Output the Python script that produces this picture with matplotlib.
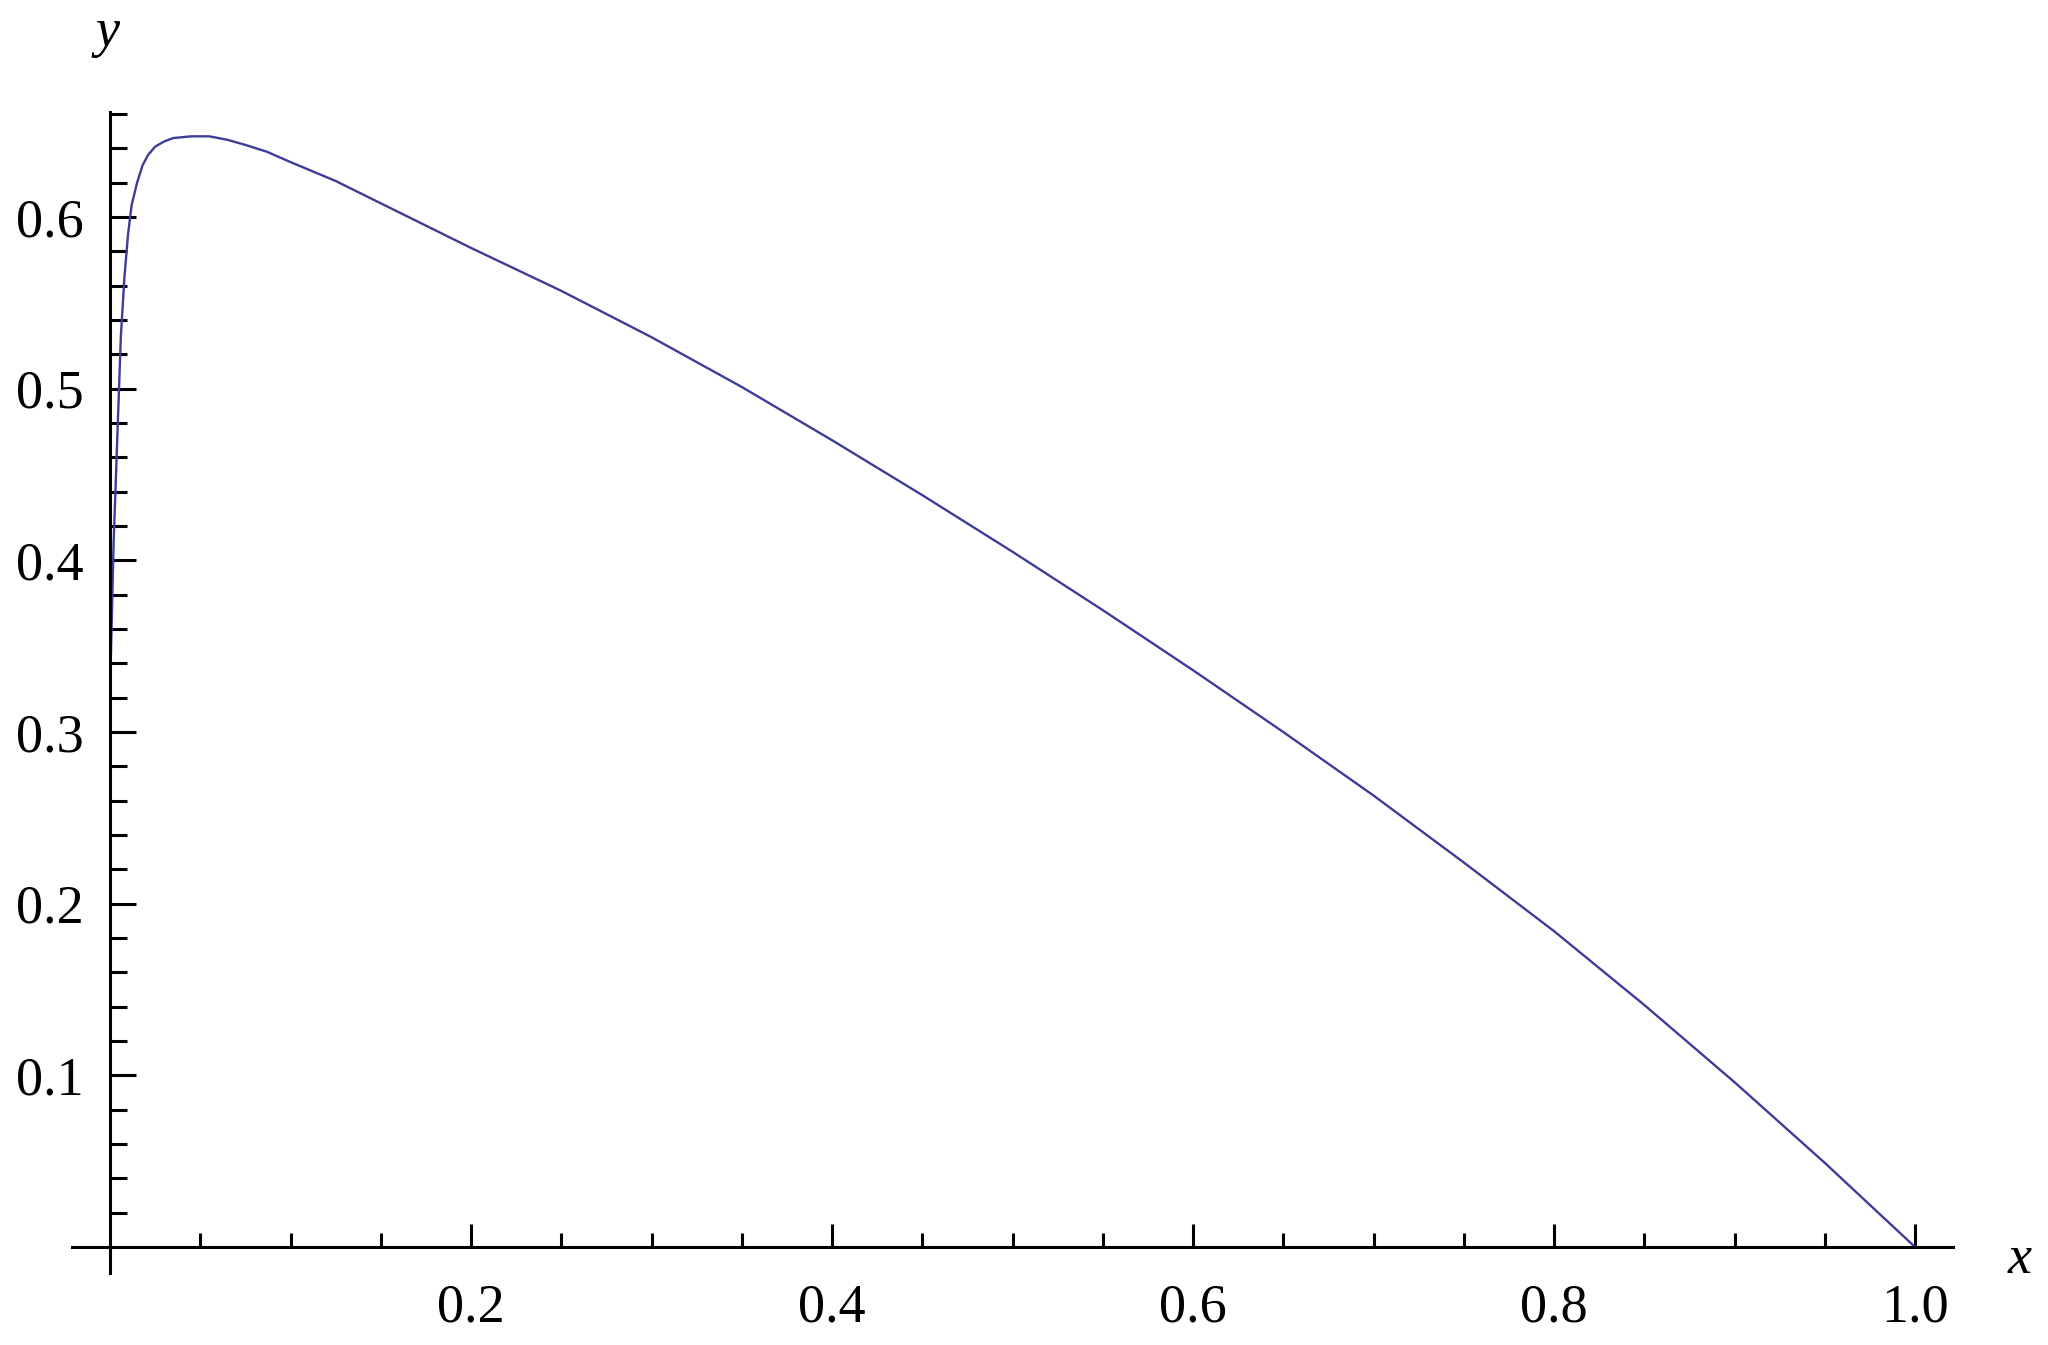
import numpy as np
import matplotlib
matplotlib.use("Agg")
from matplotlib import pyplot as plt
from matplotlib.ticker import FixedLocator

# curve
x_vals = [0.0005, 0.002, 0.004, 0.006, 0.008, 0.010, 0.012, 0.015, 0.018, 0.021,
          0.025, 0.030, 0.035, 0.045, 0.055, 0.065, 0.075, 0.087, 0.100, 0.125,
          0.150, 0.175, 0.200, 0.250, 0.300, 0.350, 0.400, 0.450, 0.500, 0.550,
          0.600, 0.650, 0.700, 0.750, 0.800, 0.850, 0.900, 0.950, 1.000]
y_vals = [0.345, 0.410, 0.470, 0.530, 0.565, 0.590, 0.607, 0.620, 0.630, 0.636,
          0.641, 0.644, 0.646, 0.647, 0.647, 0.645, 0.642, 0.638, 0.632, 0.621,
          0.608, 0.595, 0.582, 0.557, 0.530, 0.501, 0.470, 0.438, 0.405, 0.371,
          0.336, 0.300, 0.263, 0.224, 0.184, 0.141, 0.096, 0.049, 0.000]

x_ticks = [0.2, 0.4, 0.6, 0.8, 1.0]
x_labels = ["0.2", "0.4", "0.6", "0.8", "1.0"]
y_ticks = [0.1, 0.2, 0.3, 0.4, 0.5, 0.6]
y_labels = ["0.1", "0.2", "0.3", "0.4", "0.5", "0.6"]

plt.rcParams['font.family'] = ['Liberation Serif', 'DejaVu Serif']

fig = plt.figure(figsize=(20.48, 13.45), dpi=100)
ax = fig.add_axes([0.0352, 0.0537, 0.9184, 0.8628])

ax.plot(x_vals, y_vals, color='#3d3d99', lw=1.7)

ax.set_xlim(-0.021, 1.021)
ax.set_ylim(-0.015, 0.661)

for s in ['top', 'right']:
    ax.spines[s].set_visible(False)
ax.spines['left'].set_position(('data', 0))
ax.spines['bottom'].set_position(('data', 0))
ax.spines['left'].set_linewidth(2.2)
ax.spines['bottom'].set_linewidth(2.2)

ax.xaxis.set_major_locator(FixedLocator(x_ticks))
ax.set_xticklabels(x_labels)
ax.xaxis.set_minor_locator(FixedLocator([0.05, 0.1, 0.15, 0.25, 0.3, 0.35, 0.45, 0.5, 0.55,
                                         0.65, 0.7, 0.75, 0.85, 0.9, 0.95]))
ax.yaxis.set_major_locator(FixedLocator(y_ticks))
ax.set_yticklabels(y_labels)
ax.yaxis.set_minor_locator(FixedLocator([v for v in np.arange(0.02, 0.67, 0.02)
                                         if abs(v * 10 - round(v * 10)) > 1e-6]))

ax.tick_params(axis='x', which='major', direction='in', length=16.5, width=2.2,
               labelsize=39, pad=26)
ax.tick_params(axis='x', which='minor', direction='in', length=9.8, width=2.2)
ax.tick_params(axis='y', which='major', direction='in', length=19, width=2.2,
               labelsize=39, pad=19)
ax.tick_params(axis='y', which='minor', direction='in', length=12, width=2.2)

fig.text(108 / 2048, 1 - 46 / 1345, 'y', fontsize=39, style='italic',
         ha='center', va='baseline')
fig.text(2020 / 2048, 1 - 1273 / 1345, 'x', fontsize=39, style='italic',
         ha='center', va='baseline')

fig.savefig('out.png', dpi=100, facecolor='white')
